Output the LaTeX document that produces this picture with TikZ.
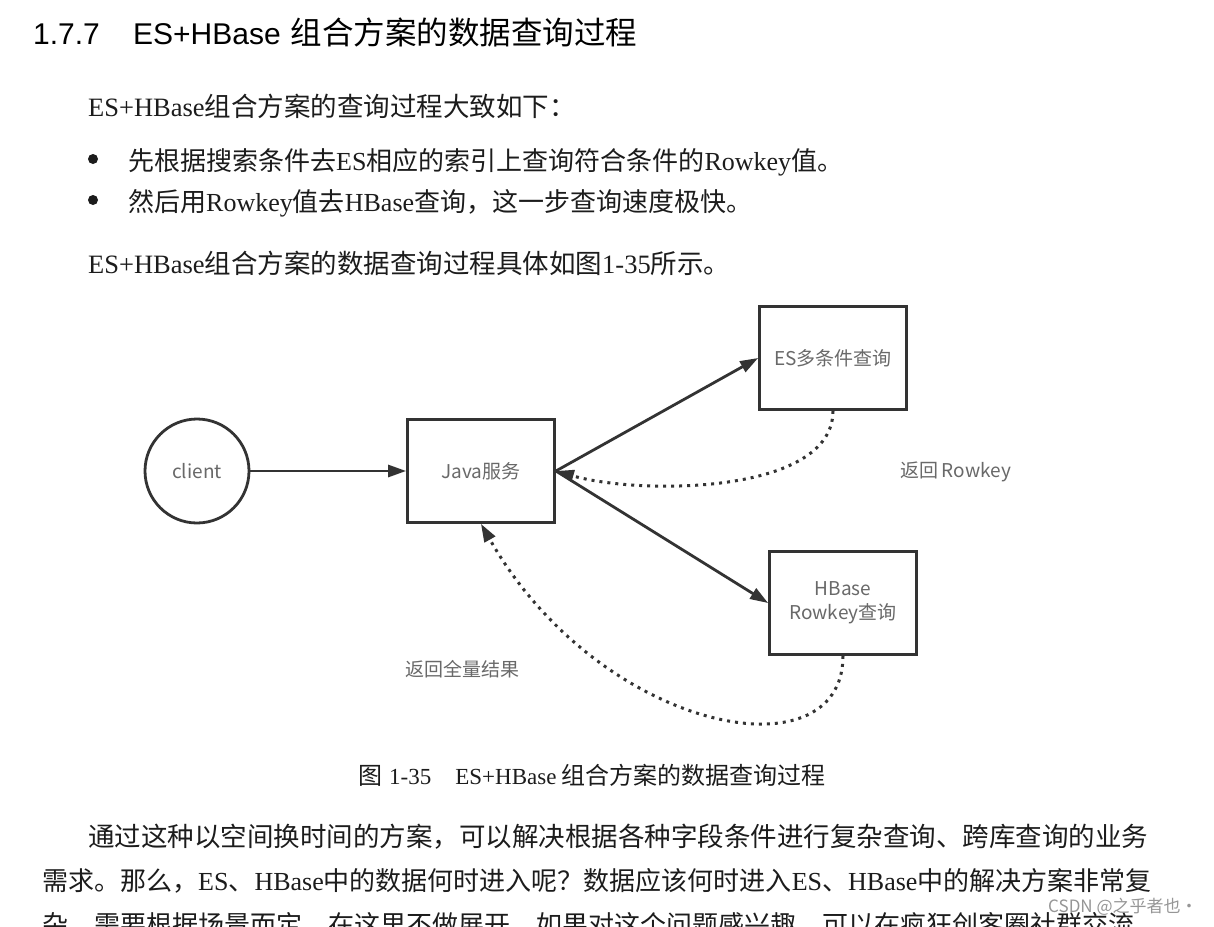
\documentclass[tikz,border=0pt]{standalone}
\usepackage{fontspec}
\setmainfont{Liberation Serif}
\setsansfont{Liberation Sans}
\newfontfamily\cjk{Noto Sans CJK SC}
\usetikzlibrary{arrows.meta,positioning}
\definecolor{ink}{RGB}{51,51,51}
\definecolor{txt}{RGB}{28,28,28}
\definecolor{lbl}{RGB}{105,105,105}
\definecolor{wmark}{RGB}{150,150,150}
\newcommand{\zh}[1]{{\cjk #1}}

\begin{document}
\begin{tikzpicture}[x=1pt,y=-1pt,>={Triangle[length=18pt,width=12pt]}]
\tikzset{box/.style={rectangle,draw=ink,line width=2.8pt,minimum width=147pt,minimum height=103pt,inner sep=0pt,font=\cjk\fontsize{19}{24}\selectfont,text=lbl,align=center},
  flow/.style={->,line width=2.8pt,draw=ink},
  back/.style={->,line width=3pt,draw=ink,dash pattern=on 3pt off 5pt},
  lab/.style={font=\cjk\fontsize{19}{24}\selectfont,text=lbl,inner sep=0pt},
  body/.style={anchor=base west,inner sep=0pt,text=txt,font=\fontsize{26}{30}\selectfont},
  wide/.style={body,font=\fontsize{26.5}{30}\selectfont},
  dot/.style={circle,fill=txt,minimum size=10pt,inner sep=0pt}}
\path[use as bounding box,fill=white] (0,0) rectangle (1214,926);
% heading and text above the figure
\node[body,text=black,font=\sffamily\fontsize{30}{34}\selectfont] (secno) at (33,44) {1.7.7};
\node[body,text=black,font=\sffamily\fontsize{30}{34}\selectfont] (sectitle) at (133,44) {ES+HBase\hspace{10pt}{\cjk\fontsize{31.5}{34}\selectfont 组合方案的数据查询过程}};
\node[wide] (intro) at (88,116) {ES+HBase\zh{组合方案的查询过程大致如下：}};
\node[dot] (b1) at (93,159) {};\node[body] (item1) at (128,170) {\zh{先根据搜索条件去}ES\zh{相应的索引上查询符合条件的}Rowkey\zh{值。}};
\node[dot] (b2) at (93,200) {};\node[body] (item2) at (128,211) {\zh{然后用}Rowkey\zh{值去}HBase\zh{查询，这一步查询速度极快。}};
\node[wide] (ref) at (88,273) {ES+HBase\zh{组合方案的数据查询过程具体如图}1-35\zh{所示。}};
% the figure
\node[circle,draw=ink,line width=2.8pt,minimum size=104pt,inner sep=0pt,lab] (client) at (197,471) {client};
\node[box] (java) at (481,471) {Java服务};
\node[box] (es) at (833,358) {ES多条件查询};
\node[box] (hb) at (843,603) {HBase\\Rowkey查询};
\draw[flow] (client) -- (java);
\draw[flow] (java.east) -- (es.west);
\draw[flow] (java.east) -- (hb.west);
\draw[back] (es.south) .. controls +(0,84) and +(83,24) .. (java.east);
\draw[back] (hb.south) .. controls +(0,123) and +(119,209) .. (java.south);
\node[lab] (rk) at (956,472) {返回\hspace{3pt}Rowkey};
\node[lab] (all) at (462,669) {返回全量结果};
\node[body,font=\fontsize{23}{26}\selectfont] (cap) at (358,784) {{\cjk\fontsize{24}{26}\selectfont 图}\hspace{7pt}1-35\hspace{24pt}ES+HBase\hspace{5pt}{\cjk\fontsize{24}{26}\selectfont 组合方案的数据查询过程}};
% text below the figure
\node[wide] (p1) at (88,846) {\zh{通过这种以空间换时间的方案，可以解决根据各种字段条件进行复杂查询、跨库查询的业务}};
\node[body] (p2) at (42,890) {\zh{需求。那么，}ES\zh{、}HBase\zh{中的数据何时进入呢？数据应该何时进入}ES\zh{、}HBase\zh{中的解决方案非常复}};
\node[body] (p3) at (42,934) {\zh{杂，需要根据场景而定，在这里不做展开。如果对这个问题感兴趣，可以在疯狂创客圈社群交流。}};
\node[anchor=base west,inner sep=0pt,text=wmark,font=\cjk\fontsize{17}{20}\selectfont] (wm) at (1048,912) {CSDN @之乎者也·};
\end{tikzpicture}
\end{document}
